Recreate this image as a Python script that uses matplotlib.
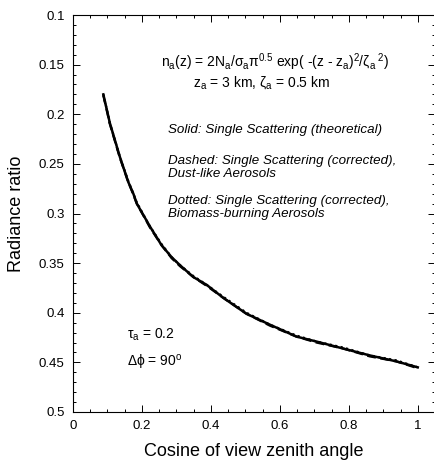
import matplotlib
matplotlib.use("Agg")
import matplotlib.pyplot as plt
from matplotlib.ticker import MultipleLocator, FuncFormatter

plt.rcParams['font.family'] = ['Liberation Sans', 'DejaVu Sans']
plt.rcParams['mathtext.fontset'] = 'custom'
plt.rcParams['mathtext.rm'] = 'Liberation Sans'
plt.rcParams['mathtext.it'] = 'Liberation Sans:italic'
plt.rcParams['mathtext.bf'] = 'Liberation Sans:bold'
plt.rcParams['mathtext.default'] = 'regular'

# Cosine of view zenith angle
mu = [0.088, 0.107, 0.136, 0.160, 0.175, 0.185, 0.223, 0.257, 0.286, 0.310,
      0.349, 0.388, 0.436, 0.503, 0.571, 0.648, 0.706, 0.783, 0.861, 0.938, 1.0]

# Radiance ratio: single scattering (theoretical)
ratio_theory = [0.180, 0.209, 0.243, 0.268, 0.280, 0.290, 0.313, 0.332, 0.344, 0.352,
                0.364, 0.372, 0.385, 0.401, 0.412, 0.424, 0.429, 0.436, 0.443, 0.449, 0.455]
# Single scattering (corrected), dust-like aerosols
ratio_dust = [0.181, 0.210, 0.244, 0.268, 0.281, 0.290, 0.314, 0.332, 0.345, 0.353,
              0.364, 0.373, 0.385, 0.401, 0.413, 0.424, 0.430, 0.436, 0.444, 0.449, 0.456]
# Single scattering (corrected), biomass-burning aerosols
ratio_biomass = [0.180, 0.209, 0.243, 0.267, 0.280, 0.289, 0.313, 0.331, 0.344, 0.352,
                 0.363, 0.372, 0.384, 0.400, 0.412, 0.423, 0.429, 0.435, 0.443, 0.448, 0.455]

x_ticks = [0, 0.2, 0.4, 0.6, 0.8, 1.0]
y_ticks = [0.1, 0.15, 0.2, 0.25, 0.3, 0.35, 0.4, 0.45, 0.5]

fig = plt.figure(figsize=(4.34, 4.62), dpi=100)
ax = fig.add_axes([73 / 434, 50 / 462, 362 / 434, 397 / 462])

ax.plot(mu, ratio_theory, color='black', lw=1.8, ls='-')
ax.plot(mu, ratio_dust, color='black', lw=1.6, ls=(0, (4, 2)))
ax.plot(mu, ratio_biomass, color='black', lw=1.6, ls=(0, (1, 1.5)))

ax.set_xlim(0, 1.05)
ax.set_ylim(0.5, 0.1)
ax.set_xticks(x_ticks)
ax.set_yticks(y_ticks)
ax.xaxis.set_minor_locator(MultipleLocator(0.05))
ax.yaxis.set_minor_locator(MultipleLocator(0.01))
ax.xaxis.set_major_formatter(FuncFormatter(lambda v, p: f"{v:g}"))
ax.yaxis.set_major_formatter(FuncFormatter(lambda v, p: f"{v:g}"))
ax.tick_params(which='both', direction='in', top=True, right=True, width=0.7,
               labelsize=9.5, pad=6)
ax.tick_params(which='major', length=5)
ax.tick_params(which='minor', length=2.5)
for s in ax.spines.values():
    s.set_linewidth(0.8)

ax.set_xlabel('Cosine of view zenith angle', fontsize=13, labelpad=8)
ax.set_ylabel('Radiance ratio', fontsize=13, labelpad=10)

ax.text(0.585, 0.148,
        r'n$_a$(z) = 2N$_a$/σ$_a$π$^{0.5}$ exp( -(z - z$_a$)$^2$/ζ$_a$$^{\ 2}$)',
        fontsize=10, ha='center', va='center')
ax.text(0.547, 0.1685, r'z$_a$ = 3 km, ζ$_a$ = 0.5 km',
        fontsize=10, ha='center', va='center')

legend_lines = [
    (0.216, 'Solid: Single Scattering (theoretical)'),
    (0.247, 'Dashed: Single Scattering (corrected),'),
    (0.260, 'Dust-like Aerosols'),
    (0.287, 'Dotted: Single Scattering (corrected),'),
    (0.301, 'Biomass-burning Aerosols'),
]
for yy, txt in legend_lines:
    ax.text(0.276, yy, txt, fontsize=9.6, style='italic', ha='left', va='center')

ax.text(0.156, 0.4224, r'τ$_a$ = 0.2', fontsize=10, ha='left', va='center')
ax.text(0.156, 0.4506, r'Δϕ = 90$^o$', fontsize=10, ha='left', va='center')

fig.savefig('out.png', dpi=100)
